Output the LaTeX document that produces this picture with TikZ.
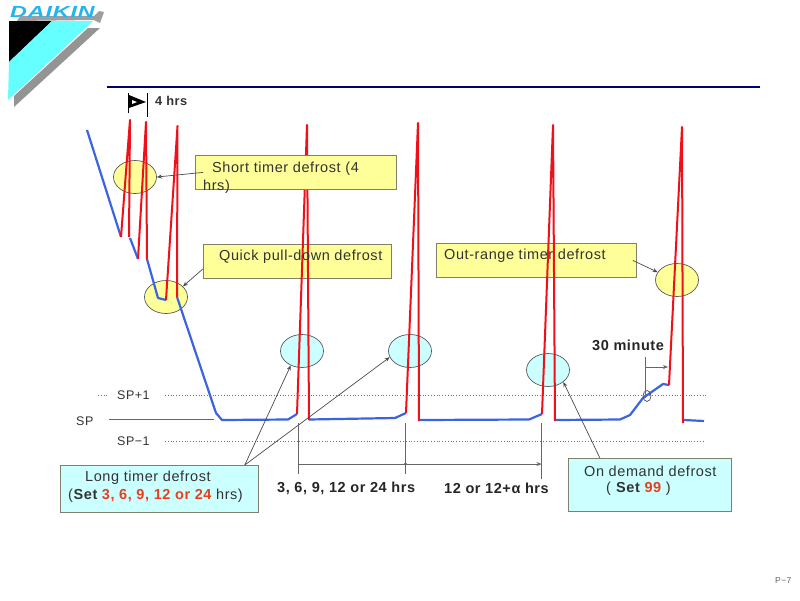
\documentclass[tikz,border=0pt]{standalone}
\usepackage{fontspec}
\setmainfont[LetterSpace=4]{Liberation Sans}
\usetikzlibrary{arrows.meta, calc, shapes.geometric}

\definecolor{boxyellow}{HTML}{FFFF99}
\definecolor{boxcyan}{HTML}{CCFFFF}
\definecolor{boxedge}{HTML}{7F7F6A}
\definecolor{linered}{HTML}{F0101A}
\definecolor{lineblue}{HTML}{3C64E0}
\definecolor{setred}{HTML}{E8401C}
\definecolor{labelgrey}{HTML}{333333}
\definecolor{logoblue}{HTML}{22B4EC}
\definecolor{logocyan}{HTML}{66FFFF}

\begin{document}
\begin{tikzpicture}[
    x=1pt, y=-1pt,
    >={Stealth[length=5pt, width=4pt]},
    txt/.style={anchor=west, inner sep=0pt, text=labelgrey, font=\fontsize{14.5}{16}\selectfont},
    splabel/.style={anchor=west, inner sep=0pt, text=labelgrey, font=\fontsize{12.5}{15}\selectfont},
    dimtxt/.style={anchor=west, inner sep=0pt, text=black!85, font=\fontsize{14.5}{16}\selectfont\bfseries},
    callbox/.style={draw=boxedge, line width=0.8pt, inner sep=0pt, anchor=north west},
    spot/.style={ellipse, draw=black!65, line width=0.7pt, inner sep=0pt, minimum width=43pt, minimum height=33pt},
    callout/.style={draw=black!70, line width=0.7pt, ->},
    thin line/.style={draw=black!60, line width=0.7pt},
    sp dots/.style={draw=black!55, line width=0.8pt, dotted},
    redline/.style={draw=linered, line width=2pt, line join=round},
    blueline/.style={draw=lineblue, line width=2.2pt, line join=round}
]
\useasboundingbox (0,0) rectangle (800,600);
\fill[white] (0,0) rectangle (800,600);

% --- Logo ---
\fill[black!42] (14,107) -- (14,96) -- (88,28) -- (100,28) -- cycle;
\fill[black] (9,21) -- (52,21) -- (9,62) -- cycle;
\fill[logocyan] (9,62) -- (52,21) -- (93,21) -- (8,100) -- cycle;
\fill[black!38] (17,21) -- (20,16) -- (94,16) -- (99,11) -- (104,12) -- (100,23) -- (94,20) -- cycle;
\node[anchor=west, inner sep=0pt, text=logoblue] (logotext) at (10,12)
    {\scalebox{1.45}[1]{\fontsize{16}{16}\selectfont\bfseries\itshape DAIKIN}};

% --- Title rule ---
\draw[draw=blue!45!black, line width=2.2pt] (107,87) -- (760,87);

% --- 4 hrs mark ---
\draw[black, line width=1pt] (128,93) -- (128,113);
\draw[black, line width=1pt] (147,93) -- (147,117);
\fill[black] (129,95) -- (146,102) -- (129,108) -- cycle;
\fill[white] (132,100) -- (137,102) -- (132,104) -- cycle;
\node[splabel, font=\fontsize{12.8}{15}\selectfont\bfseries] (fourhrs) at (155,101) {4 hrs};

% --- Set point lines ---
\draw[sp dots] (98,395) -- (108,395);
\draw[sp dots] (165,395) -- (706,395);
\draw[sp dots] (165,441) -- (703,441);
\draw[thin line] (109,419.5) -- (214,419.5);
\node[splabel] (spplus) at (117,395) {SP+1};
\node[splabel] (sp) at (76,421) {SP};
\node[splabel] (spminus) at (117,441) {SP−1};

% --- Boxes behind the curves ---
\node[callbox, fill=boxyellow, minimum width=188pt, minimum height=34pt] (quickbox) at (203,244) {};
\node[callbox, fill=boxyellow, minimum width=200pt, minimum height=34pt] (outbox) at (436,243) {};

% --- Ellipses ---
\node[spot, fill=boxyellow] (shortspot) at (135,177) {};
\node[spot, fill=boxyellow] (quickspot) at (166,297) {};
\node[spot, fill=boxyellow] (outspot) at (677,280) {};
\node[spot, fill=boxcyan] (longspotA) at (302,351) {};
\node[spot, fill=boxcyan] (longspotB) at (410,351) {};
\node[spot, fill=boxcyan] (demandspot) at (548,370) {};

% --- Temperature curve ---
\draw[blueline] (87,130) -- (121,237);
\draw[blueline] (130,238) -- (138,259);
\draw[blueline] (147,259) -- (158,298) -- (166,300);
\draw[blueline] (177,297) -- (216,413) -- (222,420) -- (288,419.5) -- (297,414);
\draw[blueline] (309,419.5) -- (395,418) -- (406,413);
\draw[blueline] (420,420) -- (529,419.5) -- (542,414);
\draw[blueline] (556,420) -- (620,419.5) -- (630,415) -- (643,398) -- (663,384) -- (669,385);
\draw[blueline] (684,420) -- (704,421);

% --- Defrost spikes ---
\foreach \xa/\ya/\xb/\yb/\xc/\yc in {121/237/130/120/129/237, 138/259/146/122/147/259,
    166/300/177.5/126/177/297, 297/414/307/125/309/420, 406/413/418/123/419/421,
    542/414/553/125/555/421, 669/385/682/127/683/423}
    \draw[redline] (\xa,\ya) -- (\xb,\yb) -- (\xc,\yc);

% --- Box in front of the curves ---
\node[callbox, fill=boxyellow, minimum width=201pt, minimum height=34pt] (shortbox) at (195,155) {};
\node[callbox, fill=boxcyan, minimum width=198pt, minimum height=47pt] (longbox) at (60,465) {};
\node[callbox, fill=boxcyan, minimum width=163pt, minimum height=53pt] (demandbox) at (568,458) {};

% --- Box texts ---
\node[txt] (shorttext) at (212,169) {Short timer defrost (4};
\node[txt] (shorttextb) at (203,187) {hrs)};
\node[txt] (quicktext) at (219,257) {Quick pull-down defrost};
\node[txt] (outtext) at (444,256) {Out-range timer defrost};
\node[txt] (longtext) at (85,478) {Long timer defrost};
\node[txt] (longtextb) at (68,496) {(\textbf{Set \textcolor{setred}{3, 6, 9, 12 or 24}} hrs)};
\node[txt] (demandtext) at (584,471) {On demand defrost};
\node[txt] (demandtextb) at (606,489) {( \textbf{Set \textcolor{setred}{99}} )};

% --- Callouts ---
\draw[callout] ([xshift=8pt]shortbox.west) -- (shortspot.east);
\draw[callout] ([yshift=10pt]quickbox.south west) -- (quickspot.32);
\draw[callout] ([xshift=-4pt]outbox.east) -- (outspot.158);
\coordinate (longapex) at ([xshift=-14pt]longbox.north east);
\draw[callout] (longapex) -- (longspotA.232);
\draw[callout] (longapex) -- (longspotB.197);
\draw[callout] ([xshift=-50pt]demandbox.north) -- (demandspot.-38);

% --- Interval marks ---
\coordinate (tickA) at (298,423);
\coordinate (tickB) at (405.5,423);
\coordinate (tickC) at (541.5,423);
\draw[thin line] (tickA) -- ++(0,51);
\draw[thin line] (tickB) -- ++(0,51);
\draw[thin line] (tickC) -- ++(0,56);
\draw[thin line] (298,464) -- (405.5,464);
\draw[thin line, ->] (405.5,464) -- (541.5,464);
\fill[black!60] (405.5,464) circle (1.6pt);
\node[dimtxt] (firsthrs) at (277,488) {3, 6, 9, 12 or 24 hrs};
\node[dimtxt] (secondhrs) at (444,488) {12 or 12+α hrs};

% --- 30 minute mark ---
\node[ellipse, draw=black!70, line width=0.7pt, inner sep=0pt, minimum width=8pt, minimum height=11pt] (thirtyspot) at (647,396) {};
\coordinate (thirtytop) at (645,357);
\draw[thin line] (thirtytop) -- (645,398);
\draw[thin line, ->] (645,367) -- (668,367);
\node[dimtxt] (thirtytext) at (592,345) {30 minute};

% --- Page number ---
\node[anchor=west, inner sep=0pt, text=black!60, font=\fontsize{8.6}{11}\selectfont] (pagenum) at (775,581) {P−7};

\end{tikzpicture}
\end{document}
